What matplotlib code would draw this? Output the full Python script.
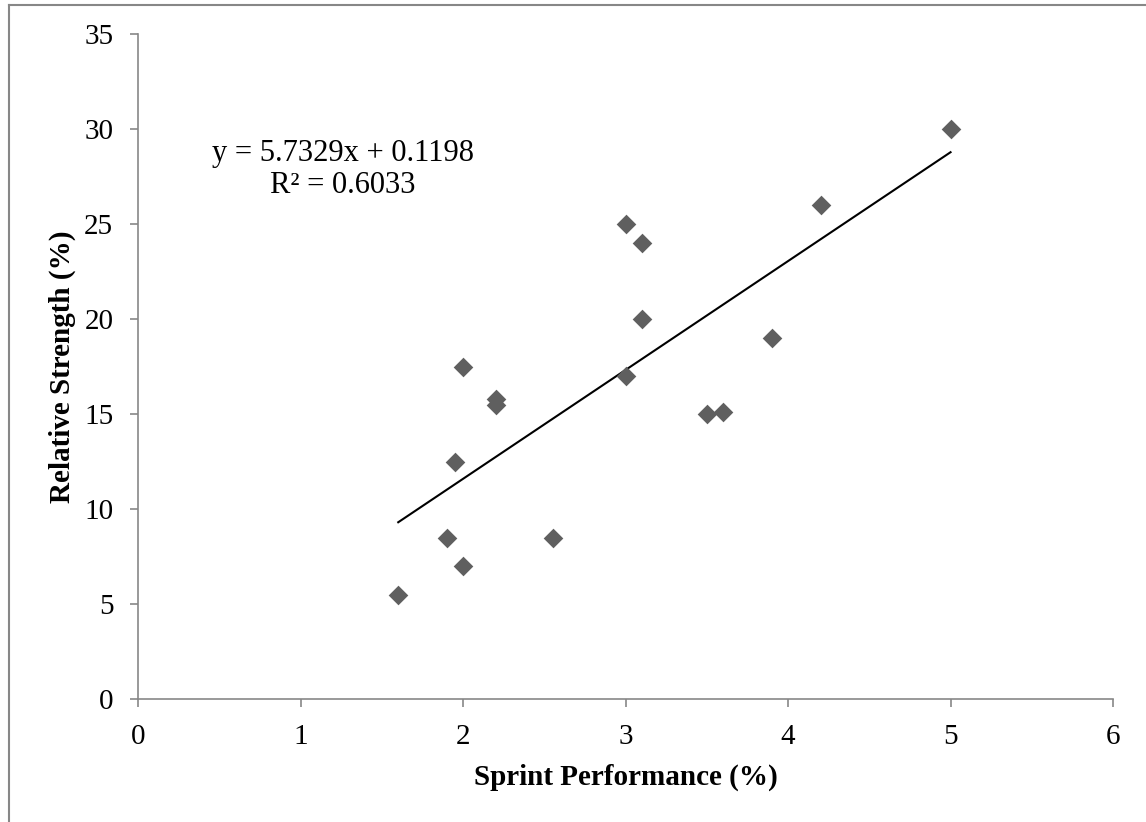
import numpy as np
import matplotlib
matplotlib.use('Agg')
import matplotlib.pyplot as plt
from matplotlib.lines import Line2D

plt.rcParams['font.family'] = 'Liberation Serif'

# data
sprint = [1.6, 1.9, 1.95, 2.0, 2.0, 2.2, 2.2, 2.55, 3.0, 3.0, 3.1, 3.1, 3.5, 3.6, 3.9, 4.2, 5.0]
strength = [5.5, 8.5, 12.5, 7.0, 17.5, 15.5, 15.8, 8.5, 17.0, 25.0, 24.0, 20.0, 15.0, 15.1, 19.0, 26.0, 30.0]
eq_text = 'y = 5.7329x + 0.1198'
r2_text = 'R² = 0.6033'
x_ticks = [0, 1, 2, 3, 4, 5, 6]
y_ticks = [0, 5, 10, 15, 20, 25, 30, 35]

fig = plt.figure(figsize=(11.46, 8.22), dpi=100)
ax = fig.add_axes([0.1207, 0.1496, 0.8505, 0.8090])

x = np.array(sprint)
y = np.array(strength)
ax.scatter(x, y, marker='D', s=100, color='#5f5f5f', zorder=3, linewidths=0)

# linear trendline
slope, icept = np.polyfit(x, y, 1)
xs = np.array([x.min(), x.max()])
ax.plot(xs, slope * xs + icept, color='black', lw=1.5, zorder=2)

ax.set_xlim(0, 6)
ax.set_ylim(0, 35)
ax.set_xticks(x_ticks)
ax.set_yticks(y_ticks)

grey = '#878787'
for side in ['top', 'right']:
    ax.spines[side].set_visible(False)
for side in ['left', 'bottom']:
    ax.spines[side].set_color(grey)
    ax.spines[side].set_linewidth(1.2)
ax.tick_params(axis='both', direction='out', length=6, width=1.2, color=grey,
               labelsize=21, pad=12)

ax.set_xlabel('Sprint Performance (%)', fontsize=21, fontweight='bold', labelpad=10)
ax.set_ylabel('Relative Strength (%)', fontsize=21, fontweight='bold', labelpad=6)

ax.text(1.26, 28.7, eq_text, fontsize=22, ha='center', va='center')
ax.text(1.26, 27.05, r2_text, fontsize=22, ha='center', va='center')

# chart area border (left and top visible)
fig.add_artist(Line2D([9 / 1146, 9 / 1146], [0, 1 - 5 / 822], transform=fig.transFigure,
                      color=grey, lw=1.5))
fig.add_artist(Line2D([9 / 1146, 1], [1 - 5 / 822, 1 - 5 / 822], transform=fig.transFigure,
                      color=grey, lw=1.5))

fig.savefig('out.png', dpi=100)
